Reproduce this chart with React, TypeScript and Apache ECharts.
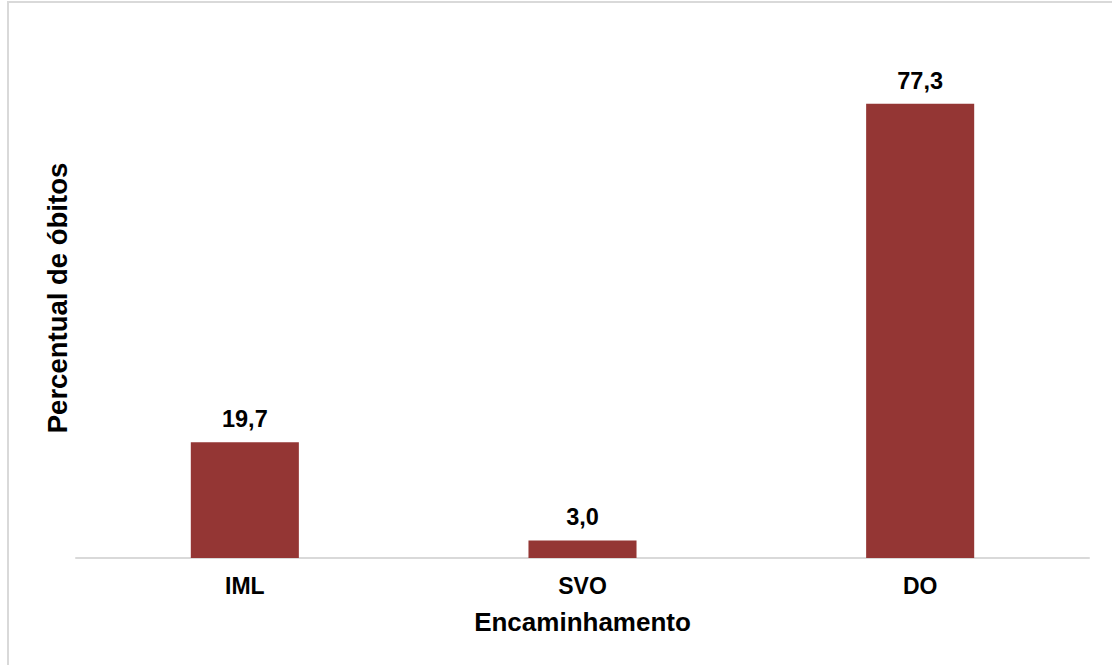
import React, { useEffect, useRef } from "react";
import * as echarts from "echarts";

const categories = ["IML", "SVO", "DO"];
const values = [19.7, 3.0, 77.3];
const xTitle = "Encaminhamento";
const yTitle = "Percentual de óbitos";

const FONT = "'Liberation Sans', Arial, sans-serif";

export default function App() {
  const ref = useRef<HTMLDivElement>(null);
  useEffect(() => {
    if (!ref.current) return;
    const chart = echarts.init(ref.current, null, { renderer: "svg" });
    chart.setOption({
      animation: false,
      backgroundColor: "#ffffff",
      grid: { left: 76, right: 23, top: 88, bottom: 107 },
      graphic: [
        {
          type: "polyline",
          shape: { points: [[8, 670], [8, 2], [1115, 2]] },
          style: { stroke: "#d9d9d9", lineWidth: 2, fill: "none" },
          silent: true,
        },
        {
          type: "text",
          x: 57,
          y: 298,
          rotation: Math.PI / 2,
          style: {
            text: yTitle,
            font: `bold 27.5px ${FONT}`,
            fill: "#000",
            align: "center",
            verticalAlign: "middle",
          },
          silent: true,
        },
      ],
      xAxis: {
        type: "category",
        data: categories,
        name: xTitle,
        nameLocation: "middle",
        nameGap: 51,
        nameTextStyle: { fontFamily: FONT, fontWeight: "bold", fontSize: 26, color: "#000" },
        axisLine: { lineStyle: { color: "#d9d9d9", width: 2 } },
        axisTick: { show: false },
        axisLabel: { fontFamily: FONT, fontWeight: "bold", fontSize: 23, color: "#000", margin: 16 },
      },
      yAxis: {
        type: "value",
        min: 0,
        max: 80,
        axisLine: { show: false },
        axisTick: { show: false },
        axisLabel: { show: false },
        splitLine: { show: false },
      },
      series: [
        {
          type: "bar",
          data: values,
          barWidth: "32%",
          itemStyle: { color: "#943634" },
          label: {
            show: true,
            position: "top",
            distance: 11,
            fontFamily: FONT,
            fontWeight: "bold",
            fontSize: 23.5,
            color: "#000",
            formatter: (p: any) => p.value.toFixed(1).replace(".", ","),
          },
        },
      ],
    });
    return () => chart.dispose();
  }, []);
  return (
    <div
      ref={ref}
      style={{ position: "fixed", left: 0, top: 0, width: 1112, height: 665 }}
    />
  );
}
